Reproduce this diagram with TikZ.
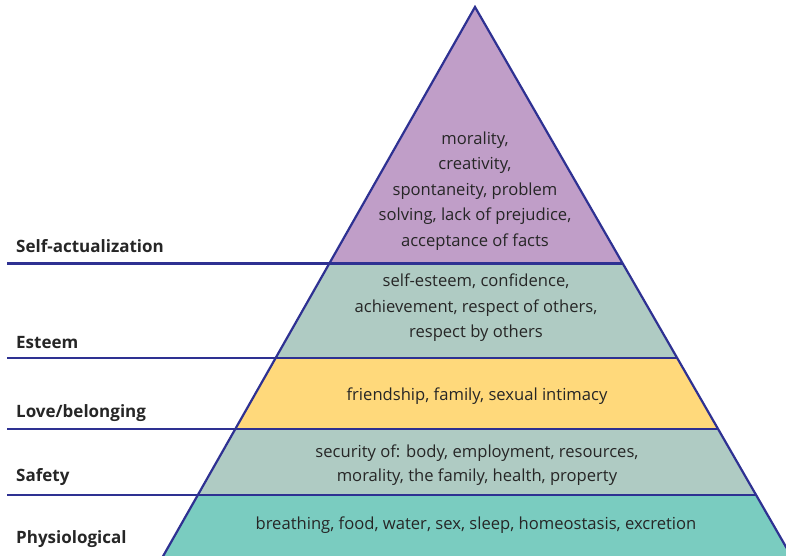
\documentclass[tikz,border=0pt]{standalone}
\usepackage{fontspec}
\setmainfont{Open Sans}
\definecolor{edge}{HTML}{2E3192}
\definecolor{cPurple}{HTML}{C09EC8}
\definecolor{cGrey}{HTML}{AFCBC3}
\definecolor{cYellow}{HTML}{FFD97B}
\definecolor{cTeal}{HTML}{7ACCC0}
\definecolor{txt}{HTML}{262626}
\tikzset{
  body/.style={align=center, text=txt, font=\fontsize{16.6}{25.5}\selectfont, inner sep=0pt},
  lab/.style={anchor=west, text=txt, font=\fontsize{17}{20}\selectfont\bfseries, inner sep=0pt},
  rule/.style={draw=edge, line width=2.2pt},
}
\begin{document}
\begin{tikzpicture}[x=1pt,y=-1pt]
\useasboundingbox (0,0) rectangle (786,556);
\pgfmathsetmacro{\kl}{0.568}
\pgfmathsetmacro{\kr}{0.576}
\def\ax{475}\def\ay{7}
\coordinate (apex) at (\ax,\ay);
\foreach \n/\yy in {a/263.5,b/358,c/429,d/495,e/556,f/580}{
  \pgfmathsetmacro{\dl}{\kl*(\yy-\ay)}
  \pgfmathsetmacro{\dr}{\kr*(\yy-\ay)}
  \coordinate (L\n) at ({\ax-\dl},\yy);
  \coordinate (R\n) at ({\ax+\dr},\yy);
  \coordinate (S\n) at (7,\yy);
}
\begin{scope}
\clip (0,0) rectangle (786,556);
\fill[cPurple] (apex) -- (Ra) -- (La) -- cycle;
\fill[cGrey] (La) -- (Ra) -- (Rb) -- (Lb) -- cycle;
\fill[cYellow] (Lb) -- (Rb) -- (Rc) -- (Lc) -- cycle;
\fill[cGrey] (Lc) -- (Rc) -- (Rd) -- (Ld) -- cycle;
\fill[cTeal] (Ld) -- (Rd) -- (Rf) -- (Lf) -- cycle;
\draw[rule, line join=miter] (Lf) -- (apex) -- (Rf);
\end{scope}
\draw[rule] (Sa) -- (Ra);
\draw[rule] (Sb) -- (Rb);
\draw[rule] (Sc) -- (Rc);
\draw[rule] (Sd) -- (Rd);

\node[body] (t1) at (475,191) {morality,\\creativity,\\spontaneity, problem\\solving, lack of prejudice,\\acceptance of facts};
\node[body] (t2) at (476,308) {self-esteem, confidence,\\achievement, respect of others,\\respect by others};
\node[body] (t3) at (477,396) {friendship, family, sexual intimacy};
\node[body, font=\fontsize{16.6}{24}\selectfont] (t4) at (477,465) {security of: body, employment, resources,\\morality, the family, health, property};
\node[body] (t5) at (476,525) {breathing, food, water, sex, sleep, homeostasis, excretion};

\node[lab] (l1) at (16,246) {Self-actualization};
\node[lab] (l2) at (16,343) {Esteem};
\node[lab] (l3) at (16,413) {Love/belonging};
\node[lab] (l4) at (16,477) {Safety};
\node[lab] (l5) at (16,539) {Physiological};
\end{tikzpicture}
\end{document}
